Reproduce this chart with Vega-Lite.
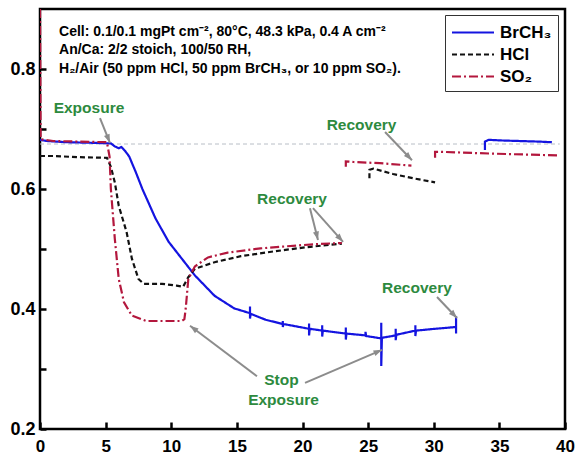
{
  "$schema": "https://vega.github.io/schema/vega-lite/v6.json",
  "width": 525,
  "height": 420,
  "autosize": {"type": "none"},
  "padding": {"left": 40, "top": 9, "right": 14, "bottom": 28},
  "background": "white",
  "config": {
    "view": {"stroke": "black", "strokeWidth": 2.5},
    "font": "Liberation Sans",
    "axis": {
      "domain": false, "ticks": true, "tickColor": "black", "tickWidth": 2.5, "tickOpacity": 1, "zindex": 2,
      "labelFont": "Liberation Sans", "labelFontWeight": "bold", "labelFontSize": 17, "labelOverlap": false,
      "labelColor": "black", "grid": false, "title": null
    }
  },
  "layer": [
    {
      "data": {"values": [{"t": 0, "v": 0.675}, {"t": 39.6, "v": 0.675}]},
      "mark": {"type": "line", "color": "#b8bec6", "strokeWidth": 1, "strokeDash": [4, 3]},
      "encoding": {
        "x": {"field": "t", "type": "quantitative", "scale": {"domain": [0, 40], "nice": false},
          "axis": {"orient": "bottom", "values": [0, 2.5, 5, 7.5, 10, 12.5, 15, 17.5, 20, 22.5, 25, 27.5, 30, 32.5, 35, 37.5, 40],
            "labelExpr": "datum.value % 5 === 0 ? format(datum.value, 'd') : ''",
            "tickSize": 7, "offset": -7, "labelPadding": 9, "labelFlush": false}},
        "y": {"field": "v", "type": "quantitative", "scale": {"domain": [0.2, 0.9], "nice": false, "zero": false},
          "axis": {"orient": "left", "values": [0.2, 0.3, 0.4, 0.5, 0.6, 0.7, 0.8],
            "labelExpr": "round(datum.value * 10) % 2 === 0 ? format(datum.value, '.1f') : ''",
            "tickSize": 6, "offset": -6, "labelPadding": 5, "labelFlush": false, "labelFontSize": 18}}
      }
    },
    {
      "data": {"values": [
        {"series": "BrCH₃", "seg": "b1", "t": 0, "v": 0.682},
        {"series": "BrCH₃", "seg": "b1", "t": 0.5, "v": 0.680},
        {"series": "BrCH₃", "seg": "b1", "t": 2, "v": 0.678},
        {"series": "BrCH₃", "seg": "b1", "t": 4, "v": 0.677},
        {"series": "BrCH₃", "seg": "b1", "t": 5.4, "v": 0.676},
        {"series": "BrCH₃", "seg": "b1", "t": 5.7, "v": 0.671},
        {"series": "BrCH₃", "seg": "b1", "t": 6.0, "v": 0.668},
        {"series": "BrCH₃", "seg": "b1", "t": 6.2, "v": 0.670},
        {"series": "BrCH₃", "seg": "b1", "t": 6.5, "v": 0.663},
        {"series": "BrCH₃", "seg": "b1", "t": 6.8, "v": 0.654},
        {"series": "BrCH₃", "seg": "b1", "t": 7.3, "v": 0.628},
        {"series": "BrCH₃", "seg": "b1", "t": 7.8, "v": 0.600},
        {"series": "BrCH₃", "seg": "b1", "t": 8.8, "v": 0.551},
        {"series": "BrCH₃", "seg": "b1", "t": 9.8, "v": 0.512},
        {"series": "BrCH₃", "seg": "b1", "t": 10.8, "v": 0.484},
        {"series": "BrCH₃", "seg": "b1", "t": 11.8, "v": 0.456},
        {"series": "BrCH₃", "seg": "b1", "t": 13.3, "v": 0.422},
        {"series": "BrCH₃", "seg": "b1", "t": 14.8, "v": 0.401},
        {"series": "BrCH₃", "seg": "b1", "t": 16.0, "v": 0.393},
        {"series": "BrCH₃", "seg": "b1", "t": 16.0, "v": 0.404},
        {"series": "BrCH₃", "seg": "b1", "t": 16.0, "v": 0.384},
        {"series": "BrCH₃", "seg": "b1", "t": 16.05, "v": 0.392},
        {"series": "BrCH₃", "seg": "b1", "t": 17.2, "v": 0.382},
        {"series": "BrCH₃", "seg": "b1", "t": 18.5, "v": 0.375},
        {"series": "BrCH₃", "seg": "b1", "t": 18.5, "v": 0.380},
        {"series": "BrCH₃", "seg": "b1", "t": 18.5, "v": 0.370},
        {"series": "BrCH₃", "seg": "b1", "t": 18.55, "v": 0.375},
        {"series": "BrCH₃", "seg": "b1", "t": 20.5, "v": 0.367},
        {"series": "BrCH₃", "seg": "b1", "t": 20.5, "v": 0.376},
        {"series": "BrCH₃", "seg": "b1", "t": 20.5, "v": 0.356},
        {"series": "BrCH₃", "seg": "b1", "t": 20.55, "v": 0.367},
        {"series": "BrCH₃", "seg": "b1", "t": 21.5, "v": 0.364},
        {"series": "BrCH₃", "seg": "b1", "t": 21.5, "v": 0.373},
        {"series": "BrCH₃", "seg": "b1", "t": 21.5, "v": 0.354},
        {"series": "BrCH₃", "seg": "b1", "t": 21.55, "v": 0.364},
        {"series": "BrCH₃", "seg": "b1", "t": 23.3, "v": 0.359},
        {"series": "BrCH₃", "seg": "b1", "t": 23.3, "v": 0.369},
        {"series": "BrCH₃", "seg": "b1", "t": 23.3, "v": 0.349},
        {"series": "BrCH₃", "seg": "b1", "t": 23.35, "v": 0.359},
        {"series": "BrCH₃", "seg": "b1", "t": 24.8, "v": 0.356},
        {"series": "BrCH₃", "seg": "b1", "t": 24.8, "v": 0.362},
        {"series": "BrCH₃", "seg": "b1", "t": 24.85, "v": 0.355},
        {"series": "BrCH₃", "seg": "b1", "t": 26.0, "v": 0.351},
        {"series": "BrCH₃", "seg": "b1", "t": 26.0, "v": 0.377},
        {"series": "BrCH₃", "seg": "b1", "t": 26.0, "v": 0.305},
        {"series": "BrCH₃", "seg": "b1", "t": 26.05, "v": 0.352},
        {"series": "BrCH₃", "seg": "b1", "t": 27.1, "v": 0.356},
        {"series": "BrCH₃", "seg": "b1", "t": 27.1, "v": 0.367},
        {"series": "BrCH₃", "seg": "b1", "t": 27.1, "v": 0.348},
        {"series": "BrCH₃", "seg": "b1", "t": 27.15, "v": 0.357},
        {"series": "BrCH₃", "seg": "b1", "t": 28.6, "v": 0.364},
        {"series": "BrCH₃", "seg": "b1", "t": 28.6, "v": 0.373},
        {"series": "BrCH₃", "seg": "b1", "t": 28.6, "v": 0.355},
        {"series": "BrCH₃", "seg": "b1", "t": 28.65, "v": 0.364},
        {"series": "BrCH₃", "seg": "b1", "t": 30.1, "v": 0.367},
        {"series": "BrCH₃", "seg": "b1", "t": 31.7, "v": 0.370},
        {"series": "BrCH₃", "seg": "b1", "t": 31.7, "v": 0.388},
        {"series": "BrCH₃", "seg": "b1", "t": 31.7, "v": 0.359},
        {"series": "BrCH₃", "seg": "b2", "t": 33.9, "v": 0.665},
        {"series": "BrCH₃", "seg": "b2", "t": 33.9, "v": 0.679},
        {"series": "BrCH₃", "seg": "b2", "t": 34.2, "v": 0.682},
        {"series": "BrCH₃", "seg": "b2", "t": 35, "v": 0.681},
        {"series": "BrCH₃", "seg": "b2", "t": 36.5, "v": 0.680},
        {"series": "BrCH₃", "seg": "b2", "t": 38, "v": 0.679},
        {"series": "BrCH₃", "seg": "b2", "t": 39.0, "v": 0.678},
        {"series": "HCl", "seg": "h1", "t": 0, "v": 0.655},
        {"series": "HCl", "seg": "h1", "t": 1, "v": 0.655},
        {"series": "HCl", "seg": "h1", "t": 3, "v": 0.653},
        {"series": "HCl", "seg": "h1", "t": 5.1, "v": 0.652},
        {"series": "HCl", "seg": "h1", "t": 5.4, "v": 0.637},
        {"series": "HCl", "seg": "h1", "t": 5.7, "v": 0.611},
        {"series": "HCl", "seg": "h1", "t": 6.0, "v": 0.572},
        {"series": "HCl", "seg": "h1", "t": 6.6, "v": 0.528},
        {"series": "HCl", "seg": "h1", "t": 7.0, "v": 0.484},
        {"series": "HCl", "seg": "h1", "t": 7.5, "v": 0.450},
        {"series": "HCl", "seg": "h1", "t": 7.9, "v": 0.442},
        {"series": "HCl", "seg": "h1", "t": 9.3, "v": 0.442},
        {"series": "HCl", "seg": "h1", "t": 10.4, "v": 0.439},
        {"series": "HCl", "seg": "h1", "t": 10.9, "v": 0.437},
        {"series": "HCl", "seg": "h1", "t": 11.3, "v": 0.453},
        {"series": "HCl", "seg": "h1", "t": 11.8, "v": 0.467},
        {"series": "HCl", "seg": "h1", "t": 13.3, "v": 0.478},
        {"series": "HCl", "seg": "h1", "t": 15.3, "v": 0.488},
        {"series": "HCl", "seg": "h1", "t": 17.8, "v": 0.496},
        {"series": "HCl", "seg": "h1", "t": 20.3, "v": 0.503},
        {"series": "HCl", "seg": "h1", "t": 23.0, "v": 0.509},
        {"series": "HCl", "seg": "h2", "t": 25.1, "v": 0.618},
        {"series": "HCl", "seg": "h2", "t": 25.1, "v": 0.632},
        {"series": "HCl", "seg": "h2", "t": 25.4, "v": 0.634},
        {"series": "HCl", "seg": "h2", "t": 26.9, "v": 0.625},
        {"series": "HCl", "seg": "h2", "t": 28.4, "v": 0.618},
        {"series": "HCl", "seg": "h2", "t": 30.1, "v": 0.611},
        {"series": "SO₂", "seg": "s1", "t": 0, "v": 0.9},
        {"series": "SO₂", "seg": "s1", "t": 0.05, "v": 0.683},
        {"series": "SO₂", "seg": "s1", "t": 1, "v": 0.680},
        {"series": "SO₂", "seg": "s1", "t": 3, "v": 0.679},
        {"series": "SO₂", "seg": "s1", "t": 5.1, "v": 0.678},
        {"series": "SO₂", "seg": "s1", "t": 5.3, "v": 0.654},
        {"series": "SO₂", "seg": "s1", "t": 5.4, "v": 0.600},
        {"series": "SO₂", "seg": "s1", "t": 5.7, "v": 0.517},
        {"series": "SO₂", "seg": "s1", "t": 6.0, "v": 0.450},
        {"series": "SO₂", "seg": "s1", "t": 6.4, "v": 0.411},
        {"series": "SO₂", "seg": "s1", "t": 7.0, "v": 0.389},
        {"series": "SO₂", "seg": "s1", "t": 8.1, "v": 0.380},
        {"series": "SO₂", "seg": "s1", "t": 10.8, "v": 0.380},
        {"series": "SO₂", "seg": "s1", "t": 11.0, "v": 0.383},
        {"series": "SO₂", "seg": "s1", "t": 11.1, "v": 0.400},
        {"series": "SO₂", "seg": "s1", "t": 11.3, "v": 0.450},
        {"series": "SO₂", "seg": "s1", "t": 11.8, "v": 0.471},
        {"series": "SO₂", "seg": "s1", "t": 12.8, "v": 0.486},
        {"series": "SO₂", "seg": "s1", "t": 14.3, "v": 0.494},
        {"series": "SO₂", "seg": "s1", "t": 16.8, "v": 0.501},
        {"series": "SO₂", "seg": "s1", "t": 18.5, "v": 0.504},
        {"series": "SO₂", "seg": "s1", "t": 20.9, "v": 0.508},
        {"series": "SO₂", "seg": "s1", "t": 23.0, "v": 0.510},
        {"series": "SO₂", "seg": "s2", "t": 23.3, "v": 0.637},
        {"series": "SO₂", "seg": "s2", "t": 23.3, "v": 0.646},
        {"series": "SO₂", "seg": "s2", "t": 23.9, "v": 0.645},
        {"series": "SO₂", "seg": "s2", "t": 25.9, "v": 0.643},
        {"series": "SO₂", "seg": "s2", "t": 28.3, "v": 0.639},
        {"series": "SO₂", "seg": "s3", "t": 30.1, "v": 0.652},
        {"series": "SO₂", "seg": "s3", "t": 30.1, "v": 0.662},
        {"series": "SO₂", "seg": "s3", "t": 30.5, "v": 0.662},
        {"series": "SO₂", "seg": "s3", "t": 33, "v": 0.660},
        {"series": "SO₂", "seg": "s3", "t": 36, "v": 0.658},
        {"series": "SO₂", "seg": "s3", "t": 39.6, "v": 0.656}
      ]},
      "mark": {"type": "line", "strokeWidth": 2.2, "clip": true},
      "encoding": {
        "x": {"field": "t", "type": "quantitative"},
        "y": {"field": "v", "type": "quantitative"},
        "color": {"field": "series", "type": "nominal",
          "scale": {"domain": ["BrCH₃", "HCl", "SO₂"], "range": ["#1414e0", "#111111", "#b3173d"]},
          "legend": {"orient": "none", "legendX": 405, "legendY": 6, "title": null,
            "symbolType": "M-1,0L3,0", "symbolSize": 441, "symbolStrokeWidth": 2, "symbolFillColor": "transparent",
            "labelFontSize": 17, "labelFontWeight": "bold",
            "labelFont": "Liberation Sans", "labelColor": "black", "strokeColor": "#333", "padding": 6, "rowPadding": 2, "labelOffset": 26}},
        "strokeDash": {"field": "series", "type": "nominal",
          "scale": {"domain": ["BrCH₃", "HCl", "SO₂"], "range": [[1, 0], [5, 3], [9, 3, 2, 3]]}},
        "detail": {"field": "seg"}
      }
    },
    {
      "data": {"values": [
        {"t": 4.57, "v": 0.718, "t2": 5.33, "v2": 0.677},
        {"t": 26.29, "v": 0.695, "t2": 28.34, "v2": 0.648},
        {"t": 20.57, "v": 0.568, "t2": 21.18, "v2": 0.515},
        {"t": 20.8, "v": 0.568, "t2": 23.09, "v2": 0.512},
        {"t": 30.25, "v": 0.42, "t2": 31.77, "v2": 0.385},
        {"t": 16.53, "v": 0.288, "t2": 11.43, "v2": 0.372},
        {"t": 20.19, "v": 0.277, "t2": 26.06, "v2": 0.332}
      ]},
      "mark": {"type": "rule", "color": "#8c8c8c", "strokeWidth": 2},
      "encoding": {
        "x": {"field": "t", "type": "quantitative"},
        "y": {"field": "v", "type": "quantitative"},
        "x2": {"field": "t2"},
        "y2": {"field": "v2"}
      }
    },
    {
      "data": {"values": [
        {"t": 4.57, "v": 0.718, "t2": 5.33, "v2": 0.677},
        {"t": 26.29, "v": 0.695, "t2": 28.34, "v2": 0.648},
        {"t": 20.57, "v": 0.568, "t2": 21.18, "v2": 0.515},
        {"t": 20.8, "v": 0.568, "t2": 23.09, "v2": 0.512},
        {"t": 30.25, "v": 0.42, "t2": 31.77, "v2": 0.385},
        {"t": 16.53, "v": 0.288, "t2": 11.43, "v2": 0.372},
        {"t": 20.19, "v": 0.277, "t2": 26.06, "v2": 0.332}
      ]},
      "transform": [{"calculate": "atan2((datum.t2 - datum.t) * 13.125, (datum.v2 - datum.v) * 600) * 180 / PI", "as": "ang"}],
      "mark": {"type": "point", "shape": "M0,0L-0.6,1.7L0.6,1.7Z", "filled": true, "color": "#8c8c8c", "opacity": 1, "size": 100},
      "encoding": {
        "x": {"field": "t2", "type": "quantitative"},
        "y": {"field": "v2", "type": "quantitative"},
        "angle": {"field": "ang", "type": "quantitative", "scale": null}
      }
    },
    {
      "data": {"values": [
        {"label": "Exposure", "t": 3.73, "v": 0.735},
        {"label": "Recovery", "t": 24.5, "v": 0.707},
        {"label": "Recovery", "t": 19.2, "v": 0.583},
        {"label": "Recovery", "t": 28.72, "v": 0.435},
        {"label": "Stop", "t": 18.4, "v": 0.282},
        {"label": "Exposure", "t": 18.55, "v": 0.248}
      ]},
      "mark": {"type": "text", "color": "#2d8a3e", "font": "Liberation Sans", "fontWeight": "bold", "fontSize": 15.5, "align": "center", "baseline": "middle"},
      "encoding": {
        "x": {"field": "t", "type": "quantitative"},
        "y": {"field": "v", "type": "quantitative"},
        "text": {"field": "label"}
      }
    },
    {
      "data": {"values": [
        {"txt": "Cell: 0.1/0.1 mgPt cm⁻², 80°C, 48.3 kPa, 0.4 A cm⁻²", "t": 1.45, "v": 0.862},
        {"txt": "An/Ca: 2/2 stoich, 100/50 RH,", "t": 1.45, "v": 0.831},
        {"txt": "H₂/Air (50 ppm HCl, 50 ppm BrCH₃, or 10 ppm SO₂).", "t": 1.45, "v": 0.800}
      ]},
      "mark": {"type": "text", "color": "black", "font": "Liberation Sans", "fontWeight": "bold", "fontSize": 14, "align": "left", "baseline": "middle"},
      "encoding": {
        "x": {"field": "t", "type": "quantitative"},
        "y": {"field": "v", "type": "quantitative"},
        "text": {"field": "txt"}
      }
    }
  ]
}
